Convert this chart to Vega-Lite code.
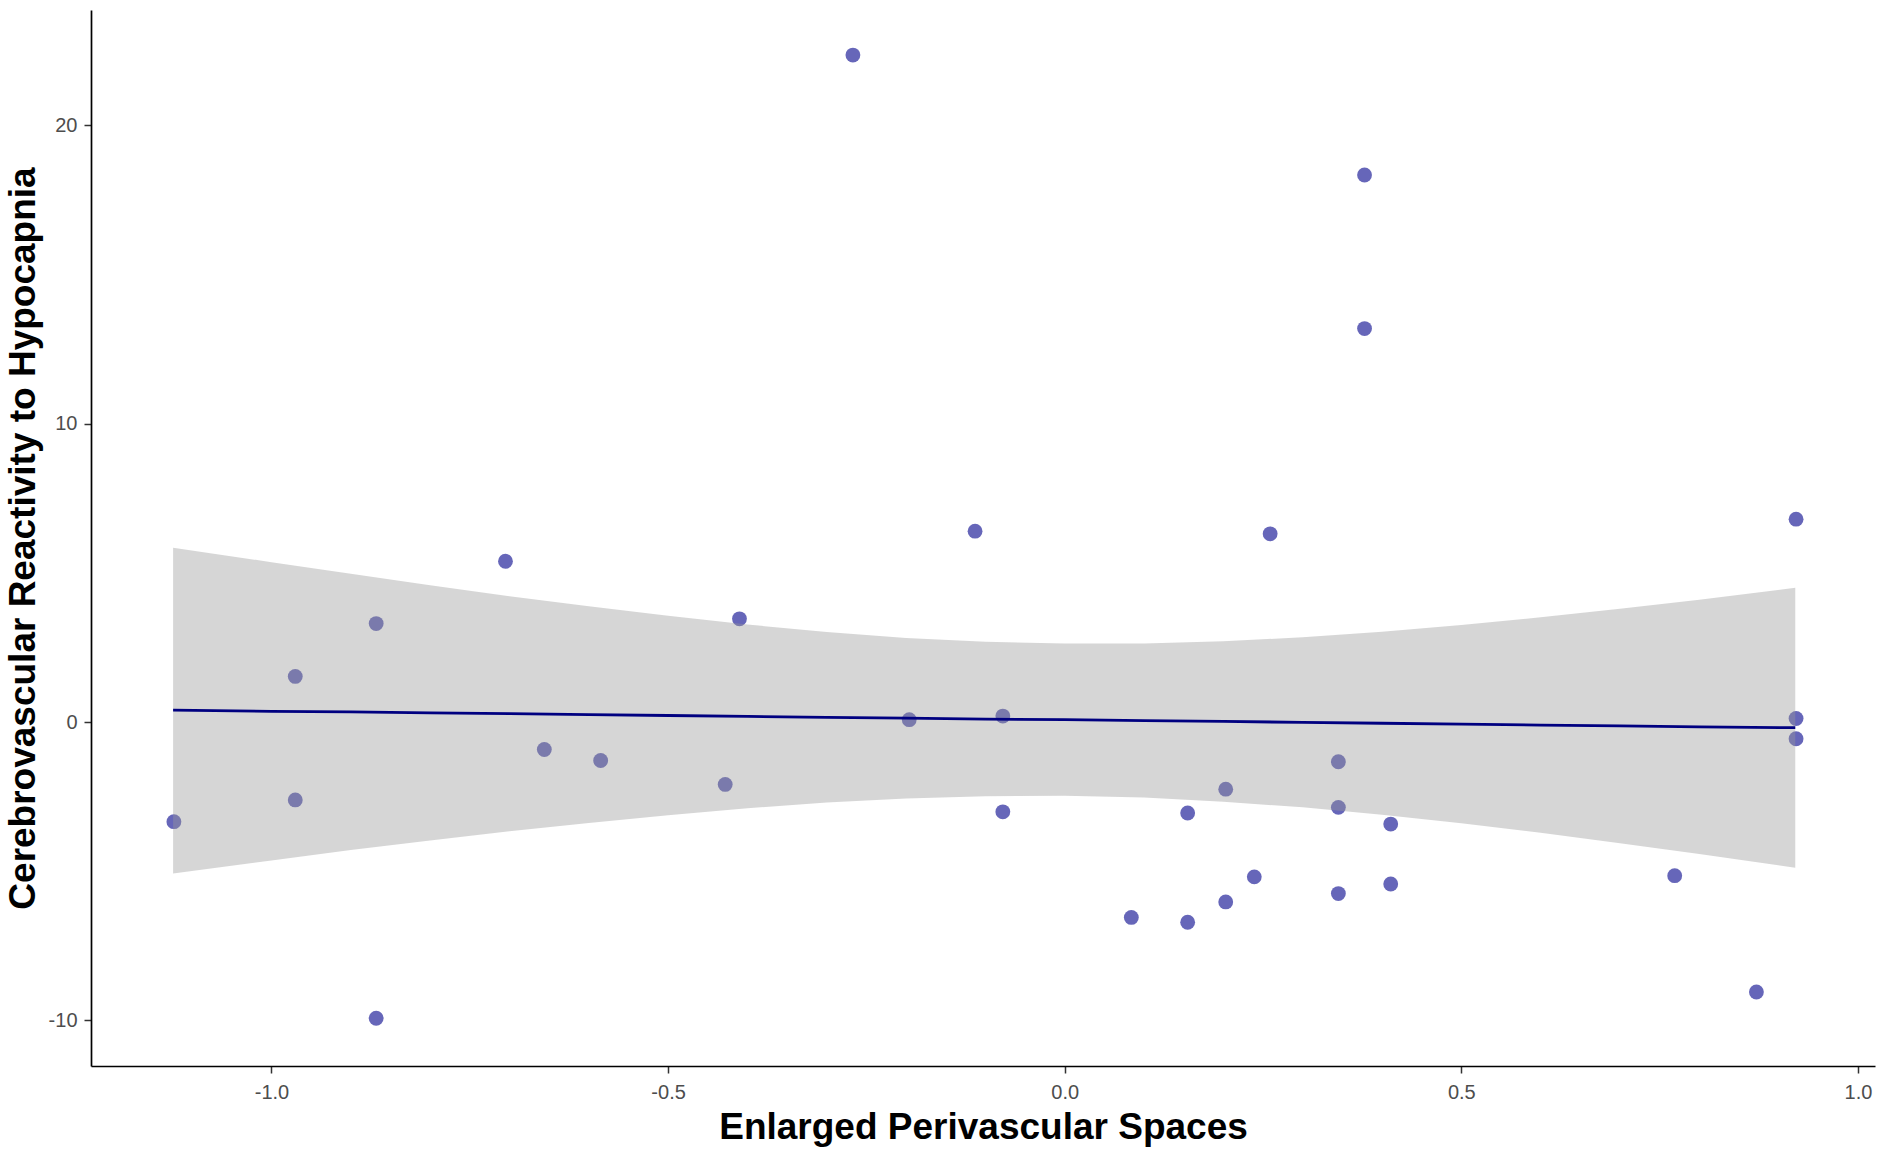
{
  "$schema": "https://vega.github.io/schema/vega-lite/v6.json",
  "autosize": "none",
  "width": 1784,
  "height": 1056,
  "padding": {"left": 91, "top": 10, "right": 4, "bottom": 83},
  "background": "white",
  "view": {"stroke": null},
  "config": {
    "axis": {
      "grid": false,
      "domainColor": "#000000",
      "domainWidth": 1.7,
      "tickColor": "#333333",
      "tickSize": 7,
      "tickWidth": 1.5,
      "labelColor": "#4D4D4D",
      "labelFont": "Liberation Sans",
      "labelFontSize": 20,
      "titleFont": "Liberation Sans",
      "titleFontSize": 37,
      "titleFontWeight": "bold",
      "titleColor": "#000000"
    }
  },
  "datasets": {
    "pts": [
      {"epvs": -1.123, "cvr": -3.34},
      {"epvs": -0.970, "cvr": 1.53},
      {"epvs": -0.970, "cvr": -2.61},
      {"epvs": -0.868, "cvr": 3.30},
      {"epvs": -0.868, "cvr": -9.93},
      {"epvs": -0.705, "cvr": 5.39},
      {"epvs": -0.656, "cvr": -0.92},
      {"epvs": -0.585, "cvr": -1.29},
      {"epvs": -0.428, "cvr": -2.09},
      {"epvs": -0.410, "cvr": 3.46},
      {"epvs": -0.267, "cvr": 22.36},
      {"epvs": -0.196, "cvr": 0.08},
      {"epvs": -0.113, "cvr": 6.40},
      {"epvs": -0.078, "cvr": 0.20},
      {"epvs": -0.078, "cvr": -3.01},
      {"epvs": 0.084, "cvr": -6.55},
      {"epvs": 0.155, "cvr": -3.05},
      {"epvs": 0.155, "cvr": -6.71},
      {"epvs": 0.203, "cvr": -2.25},
      {"epvs": 0.203, "cvr": -6.03},
      {"epvs": 0.239, "cvr": -5.19},
      {"epvs": 0.259, "cvr": 6.31},
      {"epvs": 0.345, "cvr": -1.33},
      {"epvs": 0.345, "cvr": -2.86},
      {"epvs": 0.345, "cvr": -5.75},
      {"epvs": 0.378, "cvr": 18.34},
      {"epvs": 0.378, "cvr": 13.19},
      {"epvs": 0.411, "cvr": -3.42},
      {"epvs": 0.411, "cvr": -5.43},
      {"epvs": 0.769, "cvr": -5.15},
      {"epvs": 0.872, "cvr": -9.05},
      {"epvs": 0.922, "cvr": 6.80},
      {"epvs": 0.922, "cvr": 0.12},
      {"epvs": 0.922, "cvr": -0.56}
    ],
    "band": [
      {"epvs": -1.124, "lo": -5.08, "hi": 5.84, "fit": 0.40},
      {"epvs": -1.0, "lo": -4.64, "hi": 5.36, "fit": 0.36},
      {"epvs": -0.9, "lo": -4.29, "hi": 4.97, "fit": 0.34},
      {"epvs": -0.8, "lo": -3.97, "hi": 4.59, "fit": 0.31},
      {"epvs": -0.7, "lo": -3.66, "hi": 4.22, "fit": 0.28},
      {"epvs": -0.6, "lo": -3.38, "hi": 3.88, "fit": 0.25},
      {"epvs": -0.5, "lo": -3.12, "hi": 3.56, "fit": 0.22},
      {"epvs": -0.4, "lo": -2.89, "hi": 3.27, "fit": 0.19},
      {"epvs": -0.3, "lo": -2.70, "hi": 3.02, "fit": 0.16},
      {"epvs": -0.2, "lo": -2.56, "hi": 2.82, "fit": 0.13},
      {"epvs": -0.1, "lo": -2.49, "hi": 2.69, "fit": 0.10},
      {"epvs": 0.0, "lo": -2.47, "hi": 2.63, "fit": 0.08},
      {"epvs": 0.1, "lo": -2.53, "hi": 2.63, "fit": 0.05},
      {"epvs": 0.2, "lo": -2.67, "hi": 2.71, "fit": 0.02},
      {"epvs": 0.3, "lo": -2.86, "hi": 2.84, "fit": -0.01},
      {"epvs": 0.4, "lo": -3.11, "hi": 3.03, "fit": -0.04},
      {"epvs": 0.5, "lo": -3.39, "hi": 3.25, "fit": -0.07},
      {"epvs": 0.6, "lo": -3.71, "hi": 3.51, "fit": -0.10},
      {"epvs": 0.7, "lo": -4.06, "hi": 3.80, "fit": -0.13},
      {"epvs": 0.8, "lo": -4.42, "hi": 4.10, "fit": -0.16},
      {"epvs": 0.921, "lo": -4.88, "hi": 4.50, "fit": -0.19}
    ]
  },
  "layer": [
    {
      "data": {"name": "pts"},
      "mark": {"type": "circle", "size": 220, "color": "#00008B", "opacity": 0.6},
      "encoding": {
        "x": {
          "field": "epvs", "type": "quantitative",
          "scale": {"domain": [-1.2275, 1.0215], "nice": false, "zero": false},
          "axis": {
            "title": "Enlarged Perivascular Spaces",
            "values": [-1, -0.5, 0, 0.5, 1],
            "format": ".1f",
            "labelExpr": "replace(datum.label, '\u2212', '-')",
            "labelPadding": 9,
            "titleBaseline": "alphabetic",
            "titleY": 72
          }
        },
        "y": {
          "field": "cvr", "type": "quantitative",
          "scale": {"domain": [-11.53, 23.87], "nice": false, "zero": false},
          "axis": {
            "title": "Cerebrovascular Reactivity to Hypocapnia",
            "values": [-10, 0, 10, 20],
            "labelExpr": "replace(datum.label, '\u2212', '-')",
            "labelPadding": 7,
            "titleBaseline": "alphabetic",
            "titleX": -57
          }
        }
      }
    },
    {
      "data": {"name": "band"},
      "mark": {"type": "area", "color": "#999999", "opacity": 0.4},
      "encoding": {
        "x": {"field": "epvs", "type": "quantitative"},
        "y": {"field": "lo", "type": "quantitative"},
        "y2": {"field": "hi"}
      }
    },
    {
      "data": {"name": "band"},
      "mark": {"type": "line", "color": "#000080", "strokeWidth": 2.8},
      "encoding": {
        "x": {"field": "epvs", "type": "quantitative"},
        "y": {"field": "fit", "type": "quantitative"}
      }
    }
  ]
}
